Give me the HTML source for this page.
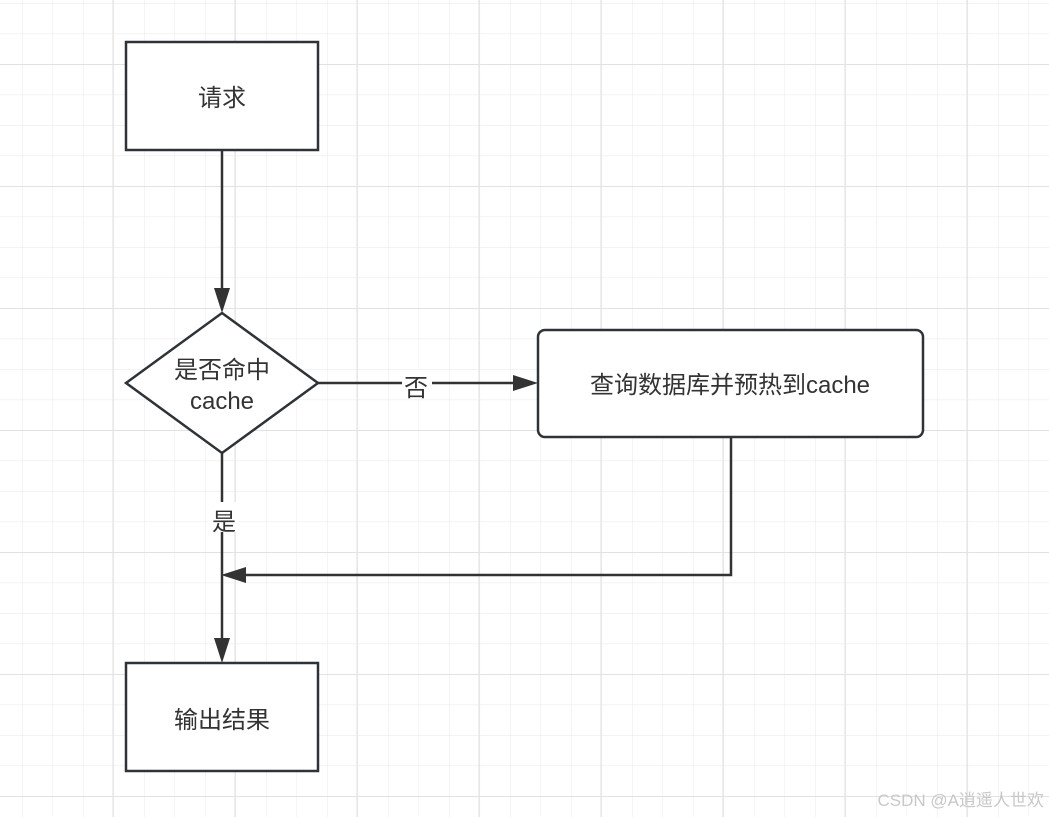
<!DOCTYPE html>
<html><head><meta charset="utf-8"><style>
html,body{margin:0;padding:0;background:#fff;}
svg{display:block;}
text{font-family:"Liberation Sans","Noto Sans CJK SC",sans-serif;fill:#333;}
</style></head><body>
<svg width="1049" height="817" viewBox="0 0 1049 817" xmlns="http://www.w3.org/2000/svg">
<defs>
<pattern id="minor" x="22" y="3" width="30.5" height="30.5" patternUnits="userSpaceOnUse">
<path d="M0 0 V30.5 M0 0 H30.5" stroke="#ececec" stroke-width="1.2" fill="none"/>
</pattern>
<pattern id="major" x="112.5" y="64" width="122" height="122" patternUnits="userSpaceOnUse">
<path d="M0 0 V122 M0 0 H122" stroke="#e2e2e2" stroke-width="2" fill="none"/>
</pattern>
</defs>
<rect width="1049" height="817" fill="#fff"/>
<rect width="1049" height="817" fill="url(#minor)"/>
<rect width="1049" height="817" fill="url(#major)"/>
<g stroke="#333" stroke-width="2.5" fill="none">
<line x1="222" y1="150" x2="222" y2="290"/>
<line x1="318" y1="383" x2="515" y2="383"/>
<line x1="222" y1="453" x2="222" y2="640"/>
<polyline points="731,437 731,575 245,575"/>
</g>
<g fill="#333">
<polygon points="214,288 230,288 222,313"/>
<polygon points="513,375 513,391 538,383"/>
<polygon points="246,567 246,583 221,575"/>
<polygon points="214,638 230,638 222,663"/>
</g>
<rect x="126" y="42" width="192" height="108" fill="#fff" stroke="#2e3338" stroke-width="2.5"/>
<text x="222" y="106" font-size="24" text-anchor="middle">请求</text>
<polygon points="222,313 318,383 222,453 126,383" fill="#fff" stroke="#2e3338" stroke-width="2.5"/>
<text x="222" y="378" font-size="24" text-anchor="middle">是否命中</text>
<text x="222" y="409" font-size="24" text-anchor="middle">cache</text>
<rect x="402" y="370" width="30" height="28" fill="#fff"/>
<text x="416" y="396" font-size="24" text-anchor="middle">否</text>
<rect x="208" y="502" width="30" height="30" fill="#fff"/>
<text x="224" y="530" font-size="24" text-anchor="middle">是</text>
<rect x="538" y="330" width="385" height="107" rx="7" fill="#fff" stroke="#2e3338" stroke-width="2.5"/>
<text x="730" y="393" font-size="24" text-anchor="middle">查询数据库并预热到cache</text>
<rect x="126" y="663" width="192" height="108" fill="#fff" stroke="#2e3338" stroke-width="2.5"/>
<text x="222" y="728" font-size="24" text-anchor="middle">输出结果</text>
<text x="1044" y="806" font-size="17" text-anchor="end" style="fill:#c8c8c8">CSDN @A逍遥人世欢</text>
</svg>
</body></html>
